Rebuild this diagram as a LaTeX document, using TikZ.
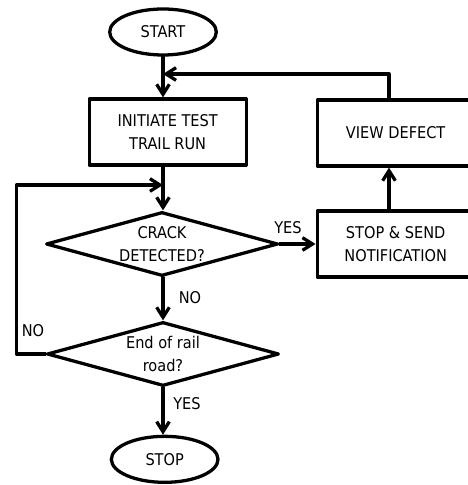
\documentclass[tikz,border=0pt]{standalone}
\usepackage{fontspec}
\setmainfont{DejaVu Sans Condensed}
\usetikzlibrary{arrows.meta,shapes.geometric}
\tikzset{
    box/.style = {draw, line width=2.8pt, minimum width=4.71cm, minimum height=1.98cm, align=center, inner sep=0pt},
    term/.style = {draw, ellipse, line width=2.8pt, minimum width=3.2cm, minimum height=1.38cm, inner sep=0pt},
    test/.style = {draw, diamond, line width=2.8pt, shape aspect=3.6, minimum width=6.96cm, minimum height=1.92cm, align=center, inner sep=0pt},
    flow/.style = {line width=2.8pt, -{Straight Barb[length=3mm,width=3.8mm]}},
    lbl/.style = {inner sep=0pt}
}

\begin{document}
\begin{tikzpicture}[line cap=round,line join=round,x=1.0cm,y=1.0cm,font=\fontsize{13.8}{19}\selectfont]
\useasboundingbox (0,0) rectangle (14.04,14.55);
\node [term] (start) at (4.89,13.59) {START};
\node [box] (init) at (5.03,10.59) {INITIATE TEST\\TRAIL RUN};
\node [test] (crack) at (4.86,7.23) {CRACK\\DETECTED?};
\node [test] (endrail) at (4.89,3.93) {End of rail\\road?};
\node [term] (stop) at (4.94,0.77) {STOP};
\node [box] (view) at (11.87,10.56) {VIEW DEFECT};
\node [box] (send) at (11.87,7.23) {STOP \& SEND\\NOTIFICATION};
\coordinate (back) at (4.89,12.33);
\coordinate (merge) at (4.89,9.0);
\draw [flow] (start.south) -- (start.south |- init.north);
\draw [flow] (start.south |- init.south) -- (start.south |- crack.north);
\draw [flow] (start.south |- crack.south) -- (start.south |- endrail.north);
\draw [flow] (endrail.south) -- (endrail.south |- stop.north);
\draw [flow] (crack.east) -- (send.west);
\draw [flow] ([xshift=-2mm]send.north) -- ([xshift=-2mm]view.south);
\draw [flow] ([xshift=-2mm]view.north) |- (back);
\draw [flow] (endrail.west) -- ++(-0.87,0) |- (merge);
\node [lbl] (yes1) at (8.64,7.71) {YES};
\node [lbl] (no1) at (5.7,5.61) {NO};
\node [lbl] (no2) at (0.99,4.62) {NO};
\node [lbl] (yes2) at (5.61,2.43) {YES};
\end{tikzpicture}
\end{document}
